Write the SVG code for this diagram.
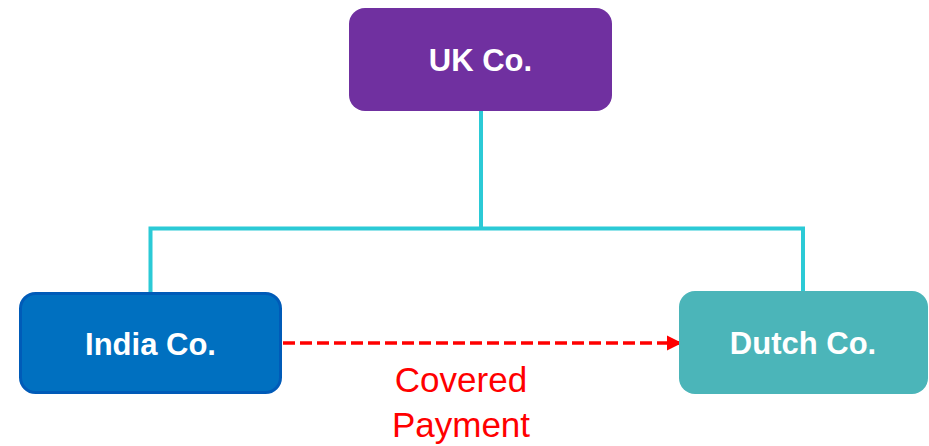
<svg xmlns="http://www.w3.org/2000/svg" width="929" height="446" viewBox="0 0 929 446">
  <style>
    .label { font-family: "Liberation Sans", Arial, sans-serif; font-weight: bold; font-size: 31px; fill: #ffffff; text-anchor: middle; }
    .tree { fill: none; stroke: #2BCAD6; stroke-width: 4; stroke-linejoin: miter; }
    .pay { fill: none; stroke: #FF0000; stroke-width: 3.5; stroke-dasharray: 12 5; }
    .note { font-family: "Liberation Sans", Arial, sans-serif; font-size: 35px; fill: #FF0000; text-anchor: middle; }
  </style>
  <defs>
    <marker id="arrow" viewBox="0 0 10 10" refX="10" refY="5" markerWidth="4.3" markerHeight="4.3" orient="auto" markerUnits="strokeWidth">
      <path d="M0,0 L10,5 L0,10 Z" fill="#FF0000"/>
    </marker>
  </defs>

  <!-- ownership lines -->
  <g id="connectors">
    <path class="tree" d="M481,110 V228.5 M150.5,292 V228.5 H803 V292"/>
    <line class="pay" x1="283" y1="343" x2="682" y2="343" marker-end="url(#arrow)"/>
  </g>

  <g id="uk-co">
    <rect x="349" y="8" width="263" height="103" rx="16" fill="#7030A0"/>
    <text class="label" x="480.5" y="71">UK Co.</text>
  </g>

  <g id="india-co">
    <rect x="20.5" y="293.5" width="260" height="99" rx="15" fill="#0070C0" stroke="#005BB8" stroke-width="3"/>
    <text class="label" x="150.5" y="355">India Co.</text>
  </g>

  <g id="dutch-co">
    <rect x="679" y="291" width="249" height="103" rx="16" fill="#4BB5B9"/>
    <text class="label" x="803" y="354">Dutch Co.</text>
  </g>

  <g id="payment-label">
    <text class="note" x="461" y="392">Covered</text>
    <text class="note" x="461" y="437">Payment</text>
  </g>
</svg>
